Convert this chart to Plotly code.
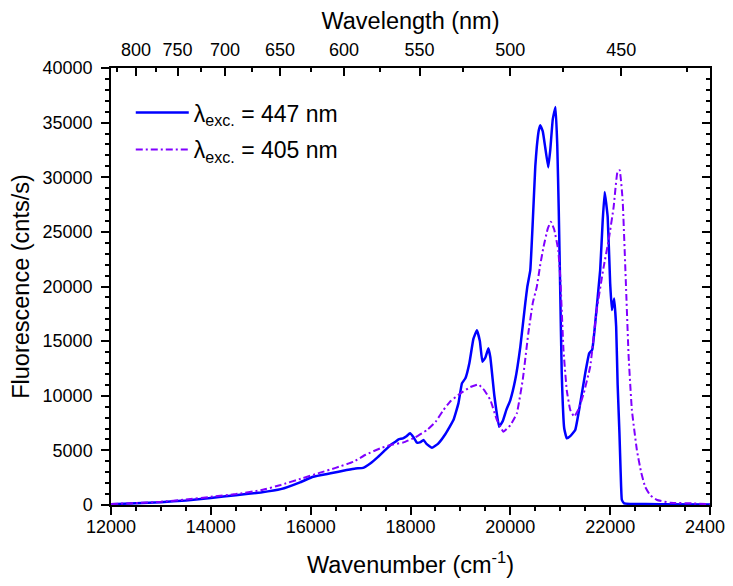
import plotly.graph_objects as go

# 447 nm excitation (blue, solid)
wn_447 = [12000, 12500, 13000, 13500, 14000, 14500, 15000, 15400, 15800, 16050, 16400, 16720, 16900, 17050,
          17200, 17350, 17460, 17600, 17700, 17760, 17850, 17920, 17990, 18060, 18130, 18200, 18260, 18320,
          18430, 18550, 18700, 18860, 18960, 19030, 19100, 19180, 19260, 19330, 19390, 19440, 19500, 19560,
          19600, 19680, 19775, 19850, 19920, 20000, 20100, 20200, 20300, 20340, 20400, 20450, 20500, 20530,
          20570, 20600, 20650, 20700, 20760, 20800, 20850, 20905, 20940, 20970, 21000, 21030, 21080, 21130,
          21200, 21300, 21400, 21500, 21580, 21640, 21700, 21800, 21850, 21890, 21950, 22000, 22035, 22080,
          22120, 22150, 22186, 22210, 22234, 22280, 22400, 23000, 24000]
fl_447 = [80, 150, 250, 420, 650, 900, 1150, 1450, 2100, 2590, 2900, 3200, 3350, 3400,
          3820, 4400, 4880, 5500, 5800, 6010, 6100, 6300, 6560, 6200, 5700, 5750, 5950, 5600,
          5240, 5600, 6500, 7780, 9300, 11130, 11600, 13000, 15200, 16000, 15000, 13110, 13500, 14340,
          13500, 10000, 7160, 7700, 8700, 9610, 11500, 14480, 18500, 19970, 21500, 26000, 31000, 32780,
          34300, 34770, 34200, 32700, 30900, 32500, 35300, 36440, 33000, 27000, 19500, 12000, 7000, 6100,
          6300, 6860, 9300, 12050, 13880, 14200, 16620, 21500, 26000, 28660, 26380, 20280, 17840, 18910,
          16310, 11000, 6560, 3000, 460, 150, 100, 70, 50]

# 405 nm excitation (violet, dash-dot)
wn_405 = [12000, 12500, 13000, 13500, 14000, 14500, 15000, 15400, 15800, 16190, 16500, 16860, 17100, 17390,
          17600, 17860, 18100, 18330, 18500, 18660, 18800, 19000, 19200, 19360, 19480, 19600, 19730, 19860,
          20000, 20130, 20250, 20360, 20450, 20530, 20600, 20665, 20750, 20812, 20880, 20960, 21000, 21065,
          21130, 21200, 21280, 21370, 21470, 21600, 21730, 21870, 21970, 22070, 22146, 22190, 22250, 22315,
          22370, 22435, 22535, 22620, 22700, 22800, 22940, 23200, 23670, 24000]
fl_405 = [100, 180, 300, 500, 750, 1000, 1350, 1830, 2400, 2960, 3400, 3960, 4600, 5180,
          5500, 5730, 6200, 6860, 7600, 8690, 9500, 10220, 10800, 11040, 10500, 9610, 7800, 6710,
          7300, 8390, 11500, 15710, 18500, 19970, 22000, 23630, 25300, 25920, 25200, 23330, 20890, 14180,
          10520, 8700, 8080, 8800, 10220, 12650, 17840, 21800, 24250, 27290, 30500, 30650, 27900, 20280,
          13570, 8690, 5030, 3000, 1670, 900, 460, 210, 150, 60]

wl_major = [800, 750, 700, 650, 600, 550, 500, 450]
wl_minor = [825, 775, 725, 675, 625, 575, 525, 475, 425]
wn_ticks = [12000, 14000, 16000, 18000, 20000, 22000, 24000]
fl_ticks = [0, 5000, 10000, 15000, 20000, 25000, 30000, 35000, 40000]

font = "Liberation Sans, Arial, sans-serif"
TICK = 18
TITLE = 23.5

fig = go.Figure()
fig.add_trace(go.Scatter(x=wn_447, y=fl_447, mode="lines", name="λ<sub>exc.</sub> = 447 nm",
                         legendgroup="a",
                         line=dict(color="#0000FF", width=2.5, shape="spline", smoothing=0.3)))
fig.add_trace(go.Scatter(x=wn_405, y=fl_405, mode="lines", name="λ<sub>exc.</sub> = 405 nm",
                         legendgroup="b",
                         line=dict(color="#8000FF", width=2, dash="7px,3px,2px,3px", shape="spline", smoothing=0.3)))
# helper trace to activate the secondary axes
fig.add_trace(go.Scatter(x=[None], y=[None], xaxis="x2", yaxis="y2", showlegend=False, hoverinfo="skip"))

axis_common = dict(showline=True, linecolor="black", linewidth=1.5, tickcolor="black", tickwidth=1.5,
                   showgrid=False, zeroline=False, automargin=False, ticklabeloverflow="allow",
                   tickfont=dict(family=font, size=TICK, color="black"))

fig.update_layout(
    width=725, height=578,
    margin=dict(l=103, r=23, t=60, b=81, autoexpand=False),
    paper_bgcolor="white", plot_bgcolor="white",
    font=dict(family=font, color="black"),
    xaxis=dict(range=[12000, 24000], tickmode="array", tickvals=wn_ticks, ticktext=[str(v) for v in wn_ticks],
               ticks="outside", ticklen=8, ticklabelstandoff=-3,
               minor=dict(tickmode="linear", tick0=12000, dtick=500, ticks="outside", ticklen=4,
                          tickcolor="black", tickwidth=1.5),
               title=dict(text="Wavenumber (cm<sup>-1</sup>)", font=dict(family=font, size=TITLE), standoff=20),
               **axis_common),
    yaxis=dict(range=[0, 40000], tickmode="array", tickvals=fl_ticks, ticktext=[str(v) for v in fl_ticks],
               ticks="outside", ticklen=8, ticklabelstandoff=5,
               minor=dict(tickmode="linear", tick0=0, dtick=1000, ticks="outside", ticklen=4,
                          tickcolor="black", tickwidth=1.5),
               title=dict(text="Fluorescence (cnts/s)", font=dict(family=font, size=TITLE), standoff=10),
               **axis_common),
    xaxis2=dict(range=[12000, 24000], overlaying="x", side="top", anchor="y",
                tickmode="array", tickvals=[1e7 / w for w in wl_major], ticktext=[str(w) for w in wl_major],
                ticks="inside", ticklen=8, ticklabelstandoff=3,
                minor=dict(tickmode="array", tickvals=[1e7 / w for w in wl_minor], ticks="inside", ticklen=4,
                           tickcolor="black", tickwidth=1.5),
                title=dict(text="Wavelength (nm)", font=dict(family=font, size=TITLE), standoff=16),
                **axis_common),
    yaxis2=dict(range=[0, 40000], overlaying="y", side="right", anchor="x",
                tickmode="array", tickvals=fl_ticks, ticks="inside", ticklen=8, showticklabels=False,
                minor=dict(tickmode="linear", tick0=0, dtick=1000, ticks="inside", ticklen=4,
                           tickcolor="black", tickwidth=1.5),
                **axis_common),
    legend=dict(x=0.033, y=0.947, xanchor="left", yanchor="top", bgcolor="rgba(0,0,0,0)",
                font=dict(family=font, size=23, color="black"), itemwidth=53, tracegroupgap=4),
    showlegend=True,
)

fig.write_html("out.html")
